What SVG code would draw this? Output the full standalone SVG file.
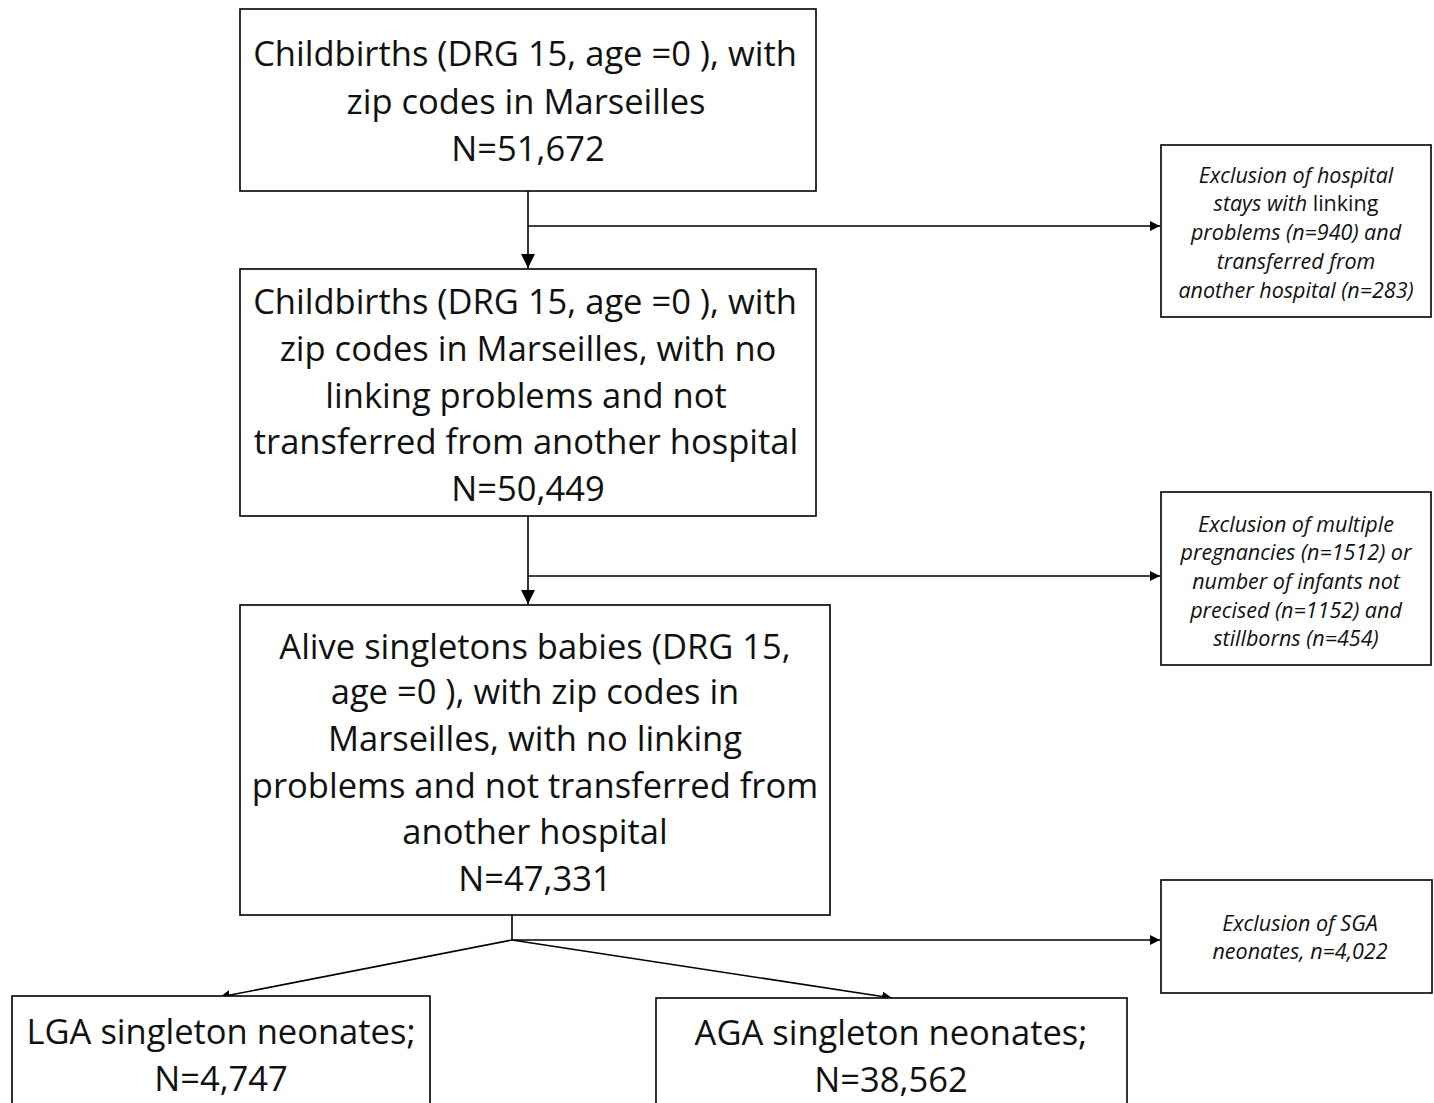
<svg xmlns="http://www.w3.org/2000/svg" width="1434" height="1103" viewBox="0 0 1434 1103">
<style>
.box{fill:#fff;stroke:#000;stroke-width:1.6}
.main{font-family:"Open Sans",Lato,sans-serif;font-size:34.5px;fill:#111;text-anchor:middle;dominant-baseline:central}
.side{font-family:"Open Sans",Lato,sans-serif;font-size:21.5px;font-style:italic;fill:#111;text-anchor:middle;dominant-baseline:central}
.up{font-style:normal}
.c{fill:none;stroke:#000;stroke-width:1.6}
</style>
<defs>
<marker id="ah" viewBox="0 0 10 10" refX="10" refY="5" markerWidth="10" markerHeight="10" markerUnits="userSpaceOnUse" orient="auto">
<path d="M0,0 L10,5 L0,10 z" fill="#000"/>
</marker>
<marker id="ahb" viewBox="0 0 10 10" refX="10" refY="5" markerWidth="14" markerHeight="14" markerUnits="userSpaceOnUse" orient="auto">
<path d="M0,0 L10,5 L0,10 z" fill="#000"/>
</marker>
</defs>
<rect width="1434" height="1103" fill="#fff"/>
<g id="connectors">
<line class="c" x1="528" y1="191" x2="528" y2="268" marker-end="url(#ahb)"/>
<line class="c" x1="528" y1="226" x2="1160" y2="226" marker-end="url(#ah)"/>
<line class="c" x1="528" y1="516" x2="528" y2="604" marker-end="url(#ahb)"/>
<line class="c" x1="528" y1="576" x2="1160" y2="576" marker-end="url(#ah)"/>
<polyline class="c" points="512,915 512,940 1160,940" marker-end="url(#ah)"/>
<line class="c" x1="512" y1="940" x2="220" y2="997" marker-end="url(#ah)"/>
<line class="c" x1="512" y1="940" x2="892" y2="998" marker-end="url(#ah)"/>
</g>
<g id="n1">
<rect class="box" x="240" y="9" width="576" height="182"/>
<text class="main" x="525" y="52">Childbirths (DRG 15, age =0 ), with</text>
<text class="main" x="526" y="100">zip codes in Marseilles</text>
<text class="main" x="528" y="147">N=51,672</text>
</g>
<g id="s1">
<rect class="box" x="1161" y="145" width="270" height="172"/>
<text class="side" x="1296" y="174">Exclusion of hospital</text>
<text class="side" x="1296" y="202">stays with <tspan class="up">linking</tspan></text>
<text class="side" x="1296" y="231">problems (n=940) and</text>
<text class="side" x="1296" y="260">transferred from</text>
<text class="side" x="1296" y="289">another hospital (n=283)</text>
</g>
<g id="n2">
<rect class="box" x="240" y="269" width="576" height="247"/>
<text class="main" x="525" y="300">Childbirths (DRG 15, age =0 ), with</text>
<text class="main" x="528" y="347">zip codes in Marseilles, with no</text>
<text class="main" x="526" y="394">linking problems and not</text>
<text class="main" x="526" y="440">transferred from another hospital</text>
<text class="main" x="528" y="487">N=50,449</text>
</g>
<g id="s2">
<rect class="box" x="1161" y="492" width="270" height="173"/>
<text class="side" x="1296" y="523">Exclusion of multiple</text>
<text class="side" x="1296" y="551">pregnancies (n=1512) or</text>
<text class="side" x="1296" y="580">number of infants not</text>
<text class="side" x="1296" y="609">precised (n=1152)  and</text>
<text class="side" x="1296" y="637">stillborns (n=454)</text>
</g>
<g id="n3">
<rect class="box" x="240" y="605" width="590" height="310"/>
<text class="main" x="535" y="645">Alive singletons babies (DRG 15,</text>
<text class="main" x="535" y="690">age =0 ), with zip codes in</text>
<text class="main" x="535" y="737">Marseilles, with no linking</text>
<text class="main" x="535" y="784">problems and not transferred from</text>
<text class="main" x="535" y="830">another hospital</text>
<text class="main" x="535" y="877">N=47,331</text>
</g>
<g id="s3">
<rect class="box" x="1161" y="880" width="271" height="113"/>
<text class="side" x="1300" y="922">Exclusion of SGA</text>
<text class="side" x="1300" y="950">neonates, n=4,022</text>
</g>
<g id="lga">
<rect class="box" x="12" y="996" width="418" height="120"/>
<text class="main" x="221" y="1030">LGA singleton neonates;</text>
<text class="main" x="221" y="1077">N=4,747</text>
</g>
<g id="aga">
<rect class="box" x="656" y="998" width="471" height="120"/>
<text class="main" x="891" y="1031">AGA singleton neonates;</text>
<text class="main" x="891" y="1078">N=38,562</text>
</g>
</svg>
